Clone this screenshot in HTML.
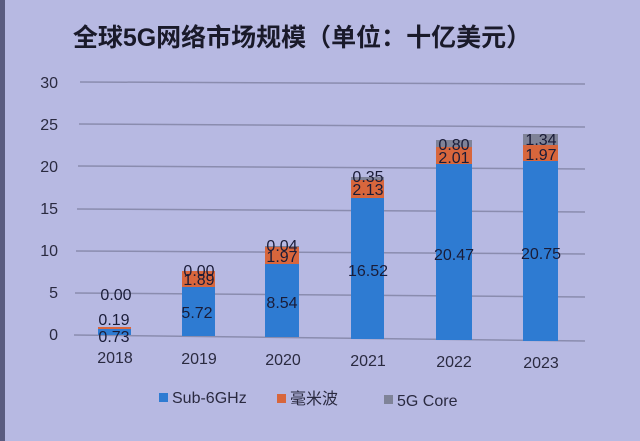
<!DOCTYPE html>
<html><head><meta charset="utf-8"><style>
body{margin:0;width:640px;height:441px;overflow:hidden;background:#b7b9e2;font-family:"Liberation Sans","Noto Sans CJK SC",sans-serif}
</style></head><body>
<svg width="640" height="441" xmlns="http://www.w3.org/2000/svg" style="position:absolute;left:0;top:0">
<rect width="640" height="441" fill="#b7b9e2"/>
<rect x="0" y="0" width="5" height="441" fill="#5a5c80"/>
<text x="302" y="46" font-size="25" font-weight="bold" text-anchor="middle" fill="#1a1a2a" font-family="Liberation Sans,Noto Sans CJK SC,sans-serif">全球5G网络市场规模（单位：十亿美元）</text>
<g stroke="#8a8cae" stroke-width="1.5">
<line x1="80" y1="82" x2="585" y2="84"/><line x1="79" y1="124" x2="585" y2="127"/>
<line x1="78" y1="166" x2="585" y2="169"/><line x1="77" y1="209" x2="585" y2="212"/>
<line x1="76" y1="251" x2="585" y2="254"/><line x1="75" y1="293" x2="585" y2="297"/>
<line x1="74" y1="335" x2="585" y2="341"/>
</g>
<g font-size="16" fill="#2a2a40" text-anchor="end">
<text x="58" y="88">30</text><text x="58" y="130">25</text><text x="58" y="172">20</text>
<text x="58" y="214">15</text><text x="58" y="256">10</text><text x="58" y="298">5</text><text x="58" y="340">0</text>
</g>
<g>
<rect x="98" y="329" width="33" height="6" fill="#2e7bd2"/><rect x="98" y="327" width="33" height="2" fill="#d8663c"/>
<rect x="182" y="287" width="33" height="49" fill="#2e7bd2"/><rect x="182" y="271" width="33" height="16" fill="#d8663c"/>
<rect x="265" y="264" width="34" height="73" fill="#2e7bd2"/><rect x="265" y="247" width="34" height="17" fill="#d8663c"/><rect x="265" y="246" width="34" height="1" fill="#7f8398"/>
<rect x="351" y="198" width="33" height="141" fill="#2e7bd2"/><rect x="351" y="180" width="33" height="18" fill="#d8663c"/><rect x="351" y="177" width="33" height="3" fill="#7f8398"/>
<rect x="436" y="164" width="36" height="176" fill="#2e7bd2"/><rect x="436" y="147" width="36" height="17" fill="#d8663c"/><rect x="436" y="140" width="36" height="7" fill="#7f8398"/>
<rect x="523" y="161" width="35" height="180" fill="#2e7bd2"/><rect x="523" y="145" width="35" height="16" fill="#d8663c"/><rect x="523" y="134" width="35" height="11" fill="#7f8398"/>
</g>
<g font-size="16" fill="#1a1c38" text-anchor="middle">
<text x="116" y="300">0.00</text><text x="114" y="325">0.19</text><text x="114" y="342">0.73</text>
<text x="199" y="276">0.00</text><text x="199" y="285">1.89</text><text x="197" y="318">5.72</text>
<text x="282" y="251">0.04</text><text x="282" y="262">1.97</text><text x="282" y="308">8.54</text>
<text x="368" y="182">0.35</text><text x="368" y="195">2.13</text><text x="368" y="276">16.52</text>
<text x="454" y="150">0.80</text><text x="454" y="163">2.01</text><text x="454" y="260">20.47</text>
<text x="541" y="145">1.34</text><text x="541" y="160">1.97</text><text x="541" y="259">20.75</text>
</g>
<g font-size="16" fill="#2a2a40" text-anchor="middle">
<text x="115" y="363">2018</text><text x="199" y="364">2019</text><text x="283" y="365">2020</text>
<text x="368" y="366">2021</text><text x="454" y="367">2022</text><text x="541" y="368">2023</text>
</g>
<g font-size="16" fill="#2a2a40">
<rect x="159" y="393" width="9" height="9" fill="#2e7bd2"/><text x="172" y="403">Sub-6GHz</text>
<rect x="277" y="394" width="9" height="9" fill="#d8663c"/><text x="290" y="404">毫米波</text>
<rect x="384" y="395" width="9" height="9" fill="#7f8398"/><text x="397" y="406">5G Core</text>
</g>
</svg>
</body></html>
